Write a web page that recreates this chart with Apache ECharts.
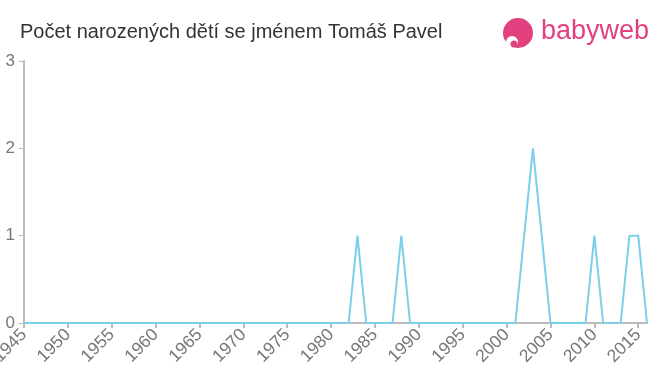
<!DOCTYPE html>
<html><head><meta charset="utf-8">
<script src="https://cdn.jsdelivr.net/npm/echarts@6/dist/echarts.min.js"></script>
<style>html,body{margin:0;padding:0;background:#fff}#c{width:660px;height:375px}</style>
</head><body><div id="c"></div>
<script>
var years = [1945,1946,1947,1948,1949,1950,1951,1952,1953,1954,1955,1956,1957,1958,1959,1960,1961,1962,1963,1964,1965,1966,1967,1968,1969,1970,1971,1972,1973,1974,1975,1976,1977,1978,1979,1980,1981,1982,1983,1984,1985,1986,1987,1988,1989,1990,1991,1992,1993,1994,1995,1996,1997,1998,1999,2000,2001,2002,2003,2004,2005,2006,2007,2008,2009,2010,2011,2012,2013,2014,2015,2016];
var counts = [0,0,0,0,0,0,0,0,0,0,0,0,0,0,0,0,0,0,0,0,0,0,0,0,0,0,0,0,0,0,0,0,0,0,0,0,0,0,1,0,0,0,0,1,0,0,0,0,0,0,0,0,0,0,0,0,0,1,2,1,0,0,0,0,0,1,0,0,0,1,1,0];
var yTicks = [0,1,2,3];
var title = 'Počet narozených dětí se jménem Tomáš Pavel';

var data = years.map(function(y,i){return [y,counts[i]];});
var chart = echarts.init(document.getElementById('c'));
var FF = 'Liberation Sans, Arial, sans-serif';
chart.setOption({
  animation:false,
  title:{text:title,left:20,top:22,padding:0,textStyle:{fontFamily:FF,fontSize:20,fontWeight:'normal',color:'#333'}},
  grid:{left:24,right:13,top:61,bottom:52,containLabel:false,outerBoundsMode:'none'},
  xAxis:{type:'value',min:1945,max:2016,interval:5,
    axisLine:{lineStyle:{color:'#bbb',width:2}},
    axisTick:{show:true,length:5,lineStyle:{color:'#bbb',width:2}},
    splitLine:{show:false},
    axisLabel:{rotate:45,color:'#777',fontSize:17.5,fontFamily:FF,margin:9,showMaxLabel:false,
      formatter:function(v){return String(v);}}
  },
  yAxis:{type:'value',min:yTicks[0],max:yTicks[yTicks.length-1],interval:1,
    axisLine:{show:true,lineStyle:{color:'#bbb',width:2}},
    axisTick:{show:true,length:5,lineStyle:{color:'#bbb',width:1}},
    splitLine:{show:false},
    axisLabel:{color:'#777',fontSize:17,fontFamily:FF,margin:9}
  },
  series:[{type:'line',data:data,showSymbol:false,symbol:'none',lineStyle:{color:'#7ccfe9',width:2}}],
  graphic:[
    {type:'circle',shape:{cx:518,cy:33,r:15},style:{fill:'#e2407f'}},
    {type:'circle',shape:{cx:512,cy:42,r:6},style:{fill:'#fff'}},
    {type:'circle',shape:{cx:514,cy:44,r:3.5},style:{fill:'#e2407f'}},
    {type:'text',left:541,top:18,style:{text:'babyweb',fill:'#e2407f',font:'27px Liberation Sans, Arial, sans-serif'}}
  ]
});
</script></body></html>
